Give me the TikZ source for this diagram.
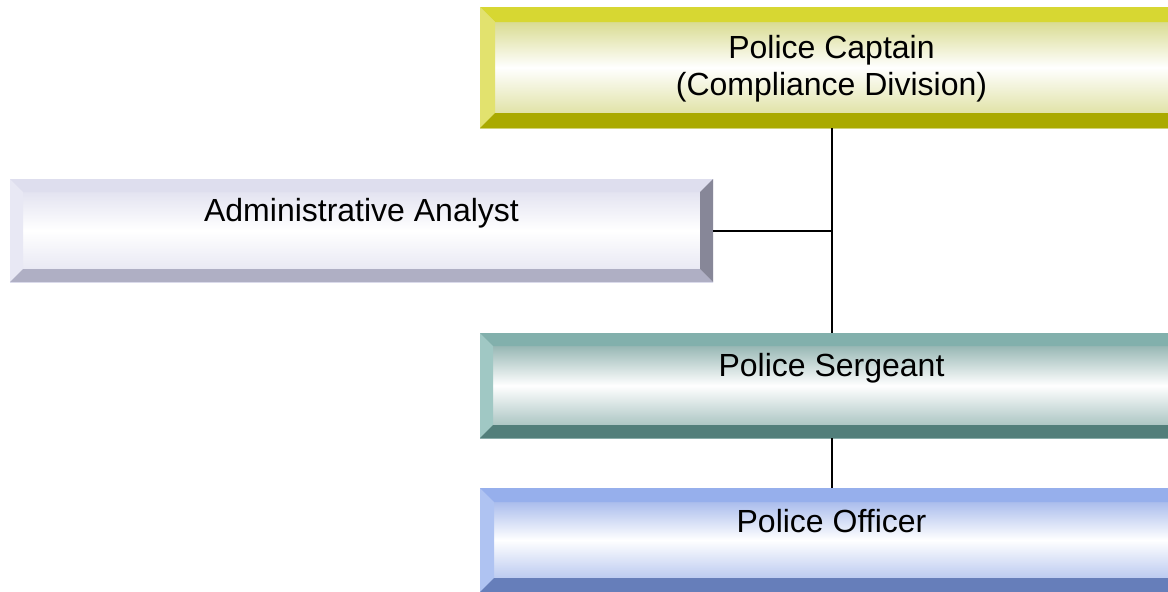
\documentclass[tikz,border=0pt]{standalone}
\usepackage{fontspec}
\setmainfont{Liberation Sans}
\usetikzlibrary{calc}

\definecolor{captop}{RGB}{215,215,50}
\definecolor{capleft}{RGB}{226,226,110}
\definecolor{capbot}{RGB}{170,170,0}
\definecolor{capright}{RGB}{185,185,20}
\definecolor{captint}{RGB}{205,208,110}
\definecolor{anatop}{RGB}{222,222,238}
\definecolor{analeft}{RGB}{232,232,244}
\definecolor{anabot}{RGB}{175,175,196}
\definecolor{anaright}{RGB}{135,135,152}
\definecolor{anatint}{RGB}{218,218,236}
\definecolor{sgttop}{RGB}{130,176,172}
\definecolor{sgtleft}{RGB}{160,200,196}
\definecolor{sgtbot}{RGB}{82,126,122}
\definecolor{sgtright}{RGB}{95,140,136}
\definecolor{sgttint}{RGB}{118,160,156}
\definecolor{offtop}{RGB}{150,175,236}
\definecolor{offleft}{RGB}{175,195,242}
\definecolor{offbot}{RGB}{102,126,186}
\definecolor{offright}{RGB}{115,140,200}
\definecolor{offtint}{RGB}{140,165,230}

\tikzset{
  ocbox/.style={anchor=north west, minimum width=703pt, inner sep=0pt, outer sep=0pt},
  oclabel/.style={align=center, font=\fontsize{32}{37}\selectfont},
  occonn/.style={line width=2pt, black}
}

% #1 name, #2 corner, #3 height, #4 bevel, #5 colour set, #6 text, #7 text shift
\newcommand{\OCBox}[7]{
  \node[ocbox, minimum height=#3, top color=#5tint, bottom color=#5tint!80, middle color=white] (#1) at #2 {};
  \fill[#5top] (#1.north west) -- (#1.north east) -- ($(#1.north east)+(-#4,#4)$) -- ($(#1.north west)+(#4,#4)$) -- cycle;
  \fill[#5left] (#1.north west) -- ($(#1.north west)+(#4,#4)$) -- ($(#1.south west)+(#4,-#4)$) -- (#1.south west) -- cycle;
  \fill[#5bot] (#1.south west) -- ($(#1.south west)+(#4,-#4)$) -- ($(#1.south east)+(-#4,-#4)$) -- (#1.south east) -- cycle;
  \fill[#5right] (#1.north east) -- ($(#1.north east)+(-#4,#4)$) -- ($(#1.south east)+(-#4,-#4)$) -- (#1.south east) -- cycle;
  \node[oclabel] (#1-text) at ($(#1.center)+(0,#7)$) {#6};
}

\begin{document}
\begin{tikzpicture}[x=1pt,y=-1pt]
\useasboundingbox (0,0) rectangle (1168,592);

\OCBox{cap}{(480,7)}{121pt}{15}{cap}{Police Captain\\(Compliance Division)}{1}
\OCBox{ana}{(10,179)}{103pt}{13}{ana}{Administrative Analyst}{-17}
\OCBox{sgt}{(480,333)}{105pt}{13}{sgt}{Police Sergeant}{-17}
\OCBox{off}{(480,488)}{104pt}{14}{off}{Police Officer}{-19}

% reporting lines
\draw[occonn] (cap.south) -- (sgt.north);
\draw[occonn] (ana.east) -- (ana.east -| cap.south);
\draw[occonn] (sgt.south) -- (off.north);
\end{tikzpicture}
\end{document}
